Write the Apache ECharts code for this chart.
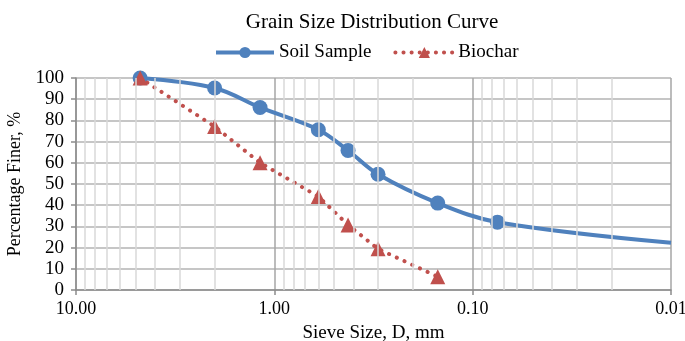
<!DOCTYPE html>
<html>
<head>
<meta charset="utf-8">
<script src="https://cdn.jsdelivr.net/npm/echarts@6/dist/echarts.min.js"></script>
<style>
  html, body { margin: 0; padding: 0; background: #fff; }
  #chart { width: 685px; height: 341px; }
</style>
</head>
<body>
<div id="chart"></div>
<script>
// sieve sizes (mm) and percentage finer
const soilSizes = [4.75, 2.0, 1.18, 0.6, 0.425, 0.3, 0.15, 0.075, 0.01];
const soilFiner = [100, 95.3, 86.1, 75.6, 65.8, 54.6, 41.0, 32.0, 22.3];
const biocharSizes = [4.75, 2.0, 1.18, 0.6, 0.425, 0.3, 0.15];
const biocharFiner = [100, 77.1, 60.0, 44.1, 30.7, 19.4, 6.3];

// minor vertical gridlines 2..9 in each decade
const minorX = [];
[0.01, 0.1, 1].forEach(d => {
  for (let k = 2; k <= 9; k++) minorX.push(+(d * k).toFixed(3));
});

const font = 'Liberation Serif, Times New Roman, serif';
const blue = '#4F81BD';
const red = '#C0504D';
const myChart = echarts.init(document.getElementById('chart'));

const soilData = soilSizes.map((s, i) => {
  const item = {value: [s, soilFiner[i]]};
  if (s === 0.01) item.symbol = 'none'; // curve tail, no measured point
  return item;
});

const option = {
  animation: false,
  textStyle: {fontFamily: font, color: '#000'},
  title: {
    text: 'Grain Size Distribution Curve',
    left: 367, textAlign: 'center',
    top: 7,
    textStyle: {fontFamily: font, fontSize: 21, fontWeight: 'normal', color: '#000'}
  },
  legend: {
    top: 38, left: 209,
    itemWidth: 58, itemHeight: 14, itemGap: 22,
    textStyle: {fontFamily: font, fontSize: 19, color: '#000'},
    data: [
      {name: 'Soil Sample', lineStyle: {width: 4, color: blue}},
      {name: 'Biochar', lineStyle: {width: 4, color: red, type: [0.1, 8], cap: 'round'}}
    ]
  },
  grid: {left: 76, right: 14, top: 78, bottom: 51, outerBoundsMode: 'none'},
  xAxis: {
    type: 'log', logBase: 10, min: 0.01, max: 10, inverse: true,
    name: 'Sieve Size, D, mm', nameLocation: 'middle', nameGap: 34,
    nameTextStyle: {fontFamily: font, fontSize: 19, color: '#000'},
    axisLine: {show: true, lineStyle: {color: '#8c8c8c', width: 1.5}},
    axisTick: {show: true, length: 5, lineStyle: {color: '#8c8c8c', width: 1.5}},
    axisLabel: {
      fontFamily: font, fontSize: 18, color: '#000', margin: 10,
      formatter: v => v.toFixed(2)
    },
    splitLine: {show: true, lineStyle: {color: '#a6a6a6', width: 1.5}}
  },
  yAxis: {
    type: 'value', min: 0, max: 100, interval: 10,
    name: 'Percentage Finer, %', nameLocation: 'middle', nameGap: 48,
    nameTextStyle: {fontFamily: font, fontSize: 18, color: '#000'},
    axisLine: {show: true, lineStyle: {color: '#8c8c8c', width: 1.5}},
    axisTick: {show: true, length: 5, lineStyle: {color: '#8c8c8c', width: 1.5}},
    axisLabel: {fontFamily: font, fontSize: 19, color: '#000', margin: 12},
    splitLine: {show: true, lineStyle: {color: '#b3b3b3', width: 1.5}}
  },
  series: [
    {
      name: 'Soil Sample', type: 'line', smooth: 0.35,
      data: soilData,
      symbol: 'circle', symbolSize: 15,
      itemStyle: {color: blue},
      lineStyle: {color: blue, width: 4},
      z: 3,
      markLine: {
        silent: true, symbol: 'none', animation: false,
        label: {show: false},
        lineStyle: {color: '#d9d9d9', width: 1.5, type: 'solid'},
        data: minorX.map(x => ({xAxis: x}))
      }
    },
    {
      name: 'Biochar', type: 'line', smooth: false,
      data: biocharSizes.map((s, i) => [s, biocharFiner[i]]),
      symbol: 'triangle', symbolSize: 15,
      itemStyle: {color: red},
      lineStyle: {color: red, width: 4, type: [0.1, 8.4], cap: 'round'},
      z: 4
    }
  ]
};
myChart.setOption(option);
</script>
</body>
</html>
